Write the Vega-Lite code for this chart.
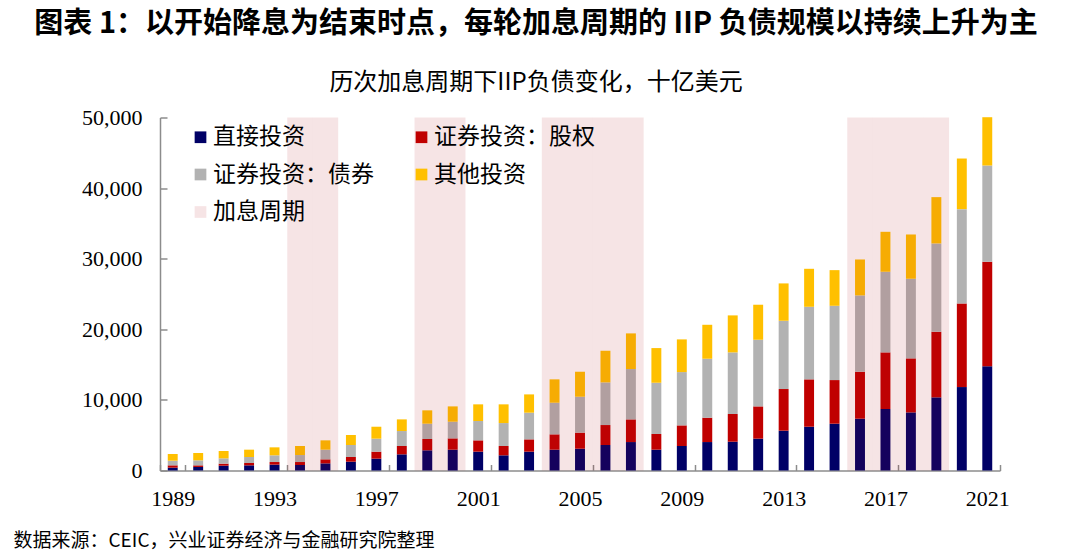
{
  "$schema": "https://vega.github.io/schema/vega-lite/v6.json",
  "width": 840,
  "height": 353,
  "autosize": "none",
  "padding": {"left": 160, "top": 117.5, "right": 80, "bottom": 83.5},
  "background": "#ffffff",
  "config": {"view": {"stroke": null}, "font": "Noto Sans CJK SC"},
  "title": {
    "text": "图表 1：以开始降息为结束时点，每轮加息周期的 IIP 负债规模以持续上升为主",
    "subtitle": "历次加息周期下IIP负债变化，十亿美元",
    "anchor": "middle",
    "frame": "group",
    "dx": -44,
    "offset": 12,
    "font": "Noto Sans CJK SC",
    "fontSize": 29,
    "fontWeight": "bold",
    "color": "#000000",
    "subtitleFont": "Noto Sans CJK SC",
    "subtitleFontSize": 24,
    "subtitleColor": "#000000",
    "subtitlePadding": 32
  },
  "datasets": {
    "iip": [
      {"year": 1989, "type": "直接投资", "value": 400}, {"year": 1989, "type": "证券投资：股权", "value": 330}, {"year": 1989, "type": "证券投资：债券", "value": 660}, {"year": 1989, "type": "其他投资", "value": 950},
      {"year": 1990, "type": "直接投资", "value": 500}, {"year": 1990, "type": "证券投资：股权", "value": 230}, {"year": 1990, "type": "证券投资：债券", "value": 710}, {"year": 1990, "type": "其他投资", "value": 1040},
      {"year": 1991, "type": "直接投资", "value": 680}, {"year": 1991, "type": "证券投资：股权", "value": 290}, {"year": 1991, "type": "证券投资：债券", "value": 750}, {"year": 1991, "type": "其他投资", "value": 1040},
      {"year": 1992, "type": "直接投资", "value": 730}, {"year": 1992, "type": "证券投资：股权", "value": 330}, {"year": 1992, "type": "证券投资：债券", "value": 850}, {"year": 1992, "type": "其他投资", "value": 1040},
      {"year": 1993, "type": "直接投资", "value": 830}, {"year": 1993, "type": "证券投资：股权", "value": 370}, {"year": 1993, "type": "证券投资：债券", "value": 950}, {"year": 1993, "type": "其他投资", "value": 1130},
      {"year": 1994, "type": "直接投资", "value": 780}, {"year": 1994, "type": "证券投资：股权", "value": 420}, {"year": 1994, "type": "证券投资：债券", "value": 990}, {"year": 1994, "type": "其他投资", "value": 1280},
      {"year": 1995, "type": "直接投资", "value": 1010}, {"year": 1995, "type": "证券投资：股权", "value": 570}, {"year": 1995, "type": "证券投资：债券", "value": 1370}, {"year": 1995, "type": "其他投资", "value": 1320},
      {"year": 1996, "type": "直接投资", "value": 1250}, {"year": 1996, "type": "证券投资：股权", "value": 660}, {"year": 1996, "type": "证券投资：债券", "value": 1700}, {"year": 1996, "type": "其他投资", "value": 1420},
      {"year": 1997, "type": "直接投资", "value": 1680}, {"year": 1997, "type": "证券投资：股权", "value": 990}, {"year": 1997, "type": "证券投资：债券", "value": 1840}, {"year": 1997, "type": "其他投资", "value": 1690},
      {"year": 1998, "type": "直接投资", "value": 2290}, {"year": 1998, "type": "证券投资：股权", "value": 1180}, {"year": 1998, "type": "证券投资：债券", "value": 2120}, {"year": 1998, "type": "其他投资", "value": 1650},
      {"year": 1999, "type": "直接投资", "value": 2860}, {"year": 1999, "type": "证券投资：股权", "value": 1600}, {"year": 1999, "type": "证券投资：债券", "value": 2170}, {"year": 1999, "type": "其他投资", "value": 1890},
      {"year": 2000, "type": "直接投资", "value": 2950}, {"year": 2000, "type": "证券投资：股权", "value": 1600}, {"year": 2000, "type": "证券投资：债券", "value": 2360}, {"year": 2000, "type": "其他投资", "value": 2170},
      {"year": 2001, "type": "直接投资", "value": 2670}, {"year": 2001, "type": "证券投资：股权", "value": 1600}, {"year": 2001, "type": "证券投资：债券", "value": 2740}, {"year": 2001, "type": "其他投资", "value": 2360},
      {"year": 2002, "type": "直接投资", "value": 2150}, {"year": 2002, "type": "证券投资：股权", "value": 1320}, {"year": 2002, "type": "证券投资：债券", "value": 3250}, {"year": 2002, "type": "其他投资", "value": 2650},
      {"year": 2003, "type": "直接投资", "value": 2670}, {"year": 2003, "type": "证券投资：股权", "value": 1740}, {"year": 2003, "type": "证券投资：债券", "value": 3780}, {"year": 2003, "type": "其他投资", "value": 2590},
      {"year": 2004, "type": "直接投资", "value": 2950}, {"year": 2004, "type": "证券投资：股权", "value": 2170}, {"year": 2004, "type": "证券投资：债券", "value": 4480}, {"year": 2004, "type": "其他投资", "value": 3310},
      {"year": 2005, "type": "直接投资", "value": 3090}, {"year": 2005, "type": "证券投资：股权", "value": 2270}, {"year": 2005, "type": "证券投资：债券", "value": 5090}, {"year": 2005, "type": "其他投资", "value": 3540},
      {"year": 2006, "type": "直接投资", "value": 3610}, {"year": 2006, "type": "证券投资：股权", "value": 2830}, {"year": 2006, "type": "证券投资：债券", "value": 6040}, {"year": 2006, "type": "其他投资", "value": 4480},
      {"year": 2007, "type": "直接投资", "value": 4030}, {"year": 2007, "type": "证券投资：股权", "value": 3210}, {"year": 2007, "type": "证券投资：债券", "value": 7130}, {"year": 2007, "type": "其他投资", "value": 5050},
      {"year": 2008, "type": "直接投资", "value": 2950}, {"year": 2008, "type": "证券投资：股权", "value": 2220}, {"year": 2008, "type": "证券投资：债券", "value": 7260}, {"year": 2008, "type": "其他投资", "value": 4910},
      {"year": 2009, "type": "直接投资", "value": 3470}, {"year": 2009, "type": "证券投资：股权", "value": 2920}, {"year": 2009, "type": "证券投资：债券", "value": 7550}, {"year": 2009, "type": "其他投资", "value": 4630},
      {"year": 2010, "type": "直接投资", "value": 4030}, {"year": 2010, "type": "证券投资：股权", "value": 3450}, {"year": 2010, "type": "证券投资：债券", "value": 8350}, {"year": 2010, "type": "其他投资", "value": 4810},
      {"year": 2011, "type": "直接投资", "value": 4080}, {"year": 2011, "type": "证券投资：股权", "value": 3920}, {"year": 2011, "type": "证券投资：债券", "value": 8730}, {"year": 2011, "type": "其他投资", "value": 5240},
      {"year": 2012, "type": "直接投资", "value": 4510}, {"year": 2012, "type": "证券投资：股权", "value": 4570}, {"year": 2012, "type": "证券投资：债券", "value": 9440}, {"year": 2012, "type": "其他投资", "value": 4960},
      {"year": 2013, "type": "直接投资", "value": 5640}, {"year": 2013, "type": "证券投资：股权", "value": 5900}, {"year": 2013, "type": "证券投资：债券", "value": 9670}, {"year": 2013, "type": "其他投资", "value": 5290},
      {"year": 2014, "type": "直接投资", "value": 6200}, {"year": 2014, "type": "证券投资：股权", "value": 6710}, {"year": 2014, "type": "证券投资：债券", "value": 10280}, {"year": 2014, "type": "其他投资", "value": 5380},
      {"year": 2015, "type": "直接投资", "value": 6630}, {"year": 2015, "type": "证券投资：股权", "value": 6180}, {"year": 2015, "type": "证券投资：债券", "value": 10520}, {"year": 2015, "type": "其他投资", "value": 5050},
      {"year": 2016, "type": "直接投资", "value": 7340}, {"year": 2016, "type": "证券投资：股权", "value": 6650}, {"year": 2016, "type": "证券投资：债券", "value": 10810}, {"year": 2016, "type": "其他投资", "value": 5090},
      {"year": 2017, "type": "直接投资", "value": 8710}, {"year": 2017, "type": "证券投资：股权", "value": 8020}, {"year": 2017, "type": "证券投资：债券", "value": 11420}, {"year": 2017, "type": "其他投资", "value": 5660},
      {"year": 2018, "type": "直接投资", "value": 8230}, {"year": 2018, "type": "证券投资：股权", "value": 7650}, {"year": 2018, "type": "证券投资：债券", "value": 11280}, {"year": 2018, "type": "其他投资", "value": 6270},
      {"year": 2019, "type": "直接投资", "value": 10360}, {"year": 2019, "type": "证券投资：股权", "value": 9290}, {"year": 2019, "type": "证券投资：债券", "value": 12510}, {"year": 2019, "type": "其他投资", "value": 6560},
      {"year": 2020, "type": "直接投资", "value": 11820}, {"year": 2020, "type": "证券投资：股权", "value": 11840}, {"year": 2020, "type": "证券投资：债券", "value": 13360}, {"year": 2020, "type": "其他投资", "value": 7170},
      {"year": 2021, "type": "直接投资", "value": 14750}, {"year": 2021, "type": "证券投资：股权", "value": 14810}, {"year": 2021, "type": "证券投资：债券", "value": 13640}, {"year": 2021, "type": "其他投资", "value": 6840}
    ],
    "cycles": [
      {"year": 1994, "type": "加息周期"}, {"year": 1995, "type": "加息周期"},
      {"year": 1999, "type": "加息周期"}, {"year": 2000, "type": "加息周期"},
      {"year": 2004, "type": "加息周期"}, {"year": 2005, "type": "加息周期"}, {"year": 2006, "type": "加息周期"}, {"year": 2007, "type": "加息周期"},
      {"year": 2016, "type": "加息周期"}, {"year": 2017, "type": "加息周期"}, {"year": 2018, "type": "加息周期"}, {"year": 2019, "type": "加息周期"}
    ]
  },
  "layer": [
    {
      "data": {"name": "iip"},
      "transform": [
        {"calculate": "indexof(['直接投资','证券投资：股权','证券投资：债券','其他投资'], datum.type)", "as": "stackOrder"}
      ],
      "mark": {"type": "bar", "width": {"band": 0.39}},
      "encoding": {
        "x": {
          "field": "year",
          "type": "ordinal",
          "sort": "ascending",
          "scale": {"paddingInner": 0, "paddingOuter": 0},
          "axis": {
            "values": [1989, 1993, 1997, 2001, 2005, 2009, 2013, 2017, 2021],
            "labelAngle": 0,
            "labelFont": "Liberation Serif",
            "labelFontSize": 22,
            "labelColor": "#000000",
            "labelPadding": 24,
            "domainColor": "#8c8c8c",
            "domainWidth": 1.5,
            "tickColor": "#8c8c8c",
            "tickWidth": 1.5,
            "tickBand": "extent",
            "tickSize": -6,
            "title": "数据来源：CEIC，兴业证券经济与金融研究院整理",
            "titleX": -147,
            "titleY": 70,
            "titleAnchor": "start",
            "titleAlign": "left",
            "titleBaseline": "middle",
            "titleFont": "Noto Sans CJK SC",
            "titleFontSize": 19,
            "titleFontWeight": "normal",
            "titleColor": "#000000"
          }
        },
        "y": {
          "field": "value",
          "type": "quantitative",
          "stack": "zero",
          "scale": {"domain": [0, 50000], "nice": false},
          "axis": {
            "values": [0, 10000, 20000, 30000, 40000, 50000],
            "format": ",.0f",
            "formatType": "number",
            "grid": false,
            "title": null,
            "labelFont": "Liberation Serif",
            "labelFontSize": 22,
            "labelColor": "#000000",
            "labelPadding": 25,
            "domainColor": "#8c8c8c",
            "domainWidth": 1.5,
            "tickColor": "#8c8c8c",
            "tickWidth": 1.5,
            "tickSize": -7
          }
        },
        "order": {"field": "stackOrder", "type": "quantitative", "sort": "ascending"},
        "color": {
          "field": "type",
          "type": "nominal",
          "sort": ["直接投资", "证券投资：股权", "证券投资：债券", "其他投资", "加息周期"],
          "scale": {
            "domain": ["直接投资", "证券投资：股权", "证券投资：债券", "其他投资", "加息周期"],
            "range": ["#000066", "#C00000", "#B2B2B2", "#FFC000", "rgba(176,18,27,0.115)"]
          },
          "legend": {
            "orient": "none",
            "legendX": 29,
            "legendY": 8,
            "direction": "horizontal",
            "columns": 2,
            "columnPadding": 36,
            "rowPadding": 13.5,
            "padding": 0,
            "title": null,
            "symbolType": "square",
            "symbolSize": 137,
            "symbolStrokeWidth": 0,
            "labelFont": "Noto Sans CJK SC",
            "labelFontSize": 23,
            "labelColor": "#000000",
            "labelOffset": 1,
            "labelLimit": 300
          }
        }
      }
    },
    {
      "data": {"name": "cycles"},
      "mark": {"type": "bar", "width": {"band": 1}},
      "encoding": {
        "x": {"field": "year", "type": "ordinal", "sort": "ascending"},
        "y": {
          "datum": 50000,
          "type": "quantitative",
          "axis": {
            "values": [0, 10000, 20000, 30000, 40000, 50000],
            "format": ",.0f",
            "formatType": "number",
            "grid": false,
            "title": null,
            "labelFont": "Liberation Serif",
            "labelFontSize": 22,
            "labelColor": "#000000",
            "labelPadding": 25,
            "domainColor": "#8c8c8c",
            "domainWidth": 1.5,
            "tickColor": "#8c8c8c",
            "tickWidth": 1.5,
            "tickSize": -7
          }
        },
        "y2": {"datum": 0},
        "color": {"field": "type", "type": "nominal"}
      }
    }
  ]
}
